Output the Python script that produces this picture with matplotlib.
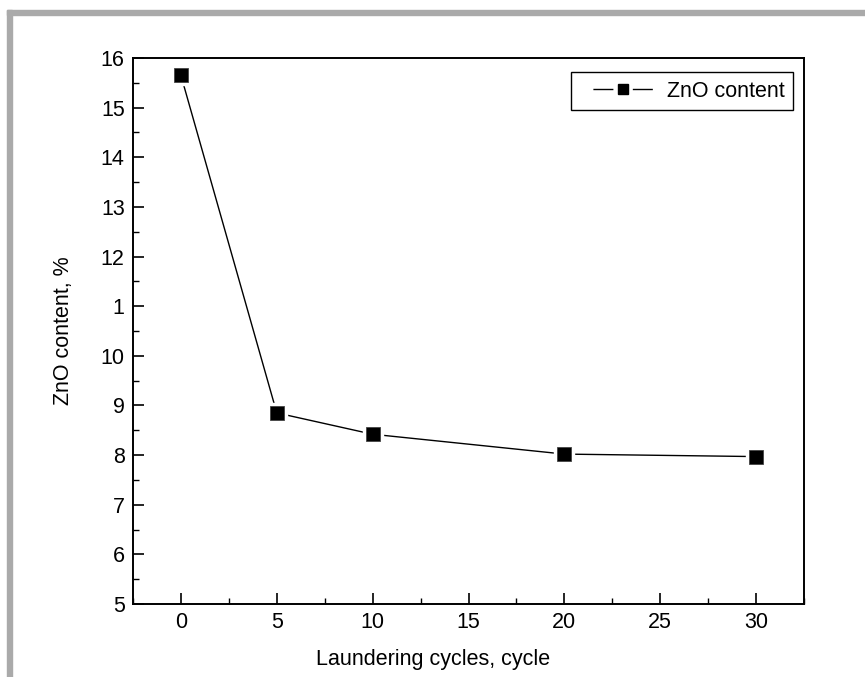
import matplotlib.pyplot as plt
from matplotlib.ticker import MultipleLocator, FixedLocator, FixedFormatter
from matplotlib.patches import Rectangle
from matplotlib.lines import Line2D

plt.rcParams['font.family'] = ['Liberation Sans', 'DejaVu Sans']

ciclos = [0, 5, 10, 20, 30]
zno = [15.65, 8.85, 8.42, 8.02, 7.97]
y_ticks = [5, 6, 7, 8, 9, 10, 11, 12, 13, 14, 15, 16]
y_labels = ['5', '6', '7', '8', '9', '10', '1', '12', '13', '14', '15', '16']

fig = plt.figure(figsize=(8.65, 6.77), dpi=100)
ax = fig.add_axes([133 / 865, 1 - 604 / 677, (804 - 133) / 865, (604 - 58) / 677])

# moldura cinza
fig.patches.append(Rectangle((7 / 865, 0), 5 / 865, 1 - 10 / 677, transform=fig.transFigure,
                             color='#aaaaaa', zorder=0))
fig.patches.append(Rectangle((7 / 865, 1 - 15 / 677), 1, 5 / 677, transform=fig.transFigure,
                             color='#aaaaaa', zorder=0))

ax.plot(ciclos, zno, color='black', lw=1.0, zorder=2)
ax.plot(ciclos, zno, ls='none', marker='s', ms=14, mfc='white', mec='white', zorder=3)
ax.plot(ciclos, zno, ls='none', marker='s', ms=9.5, mfc='black', mec='#444444', mew=0.6, zorder=4)

ax.set_xlim(-2.5, 32.5)
ax.set_ylim(5, 16)
ax.xaxis.set_major_locator(MultipleLocator(5))
ax.xaxis.set_minor_locator(MultipleLocator(2.5))
ax.yaxis.set_major_locator(FixedLocator(y_ticks))
ax.yaxis.set_major_formatter(FixedFormatter(y_labels))
ax.yaxis.set_minor_locator(MultipleLocator(0.5))
ax.tick_params(which='both', direction='in', top=False, right=False, labelsize=15.5, color='black')
ax.tick_params(which='major', length=8, width=1.2, pad=6)
ax.tick_params(which='minor', length=4, width=1.0)
for s in ax.spines.values():
    s.set_linewidth(1.4)

ax.set_xlabel('Laundering cycles, cycle', fontsize=15.5)
ax.xaxis.set_label_coords((433 - 133) / 671, -0.082)
ax.set_ylabel('ZnO content, %', fontsize=15.5)
ax.yaxis.set_label_coords((74 - 133) / 671, 0.5)

# legenda: traco, vao, marcador, vao, traco (com margem em branco nas pontas)
h = Line2D([], [], color='black', lw=1.0, ls=(62.8, (14.4, 14, 14.4, 30)),
           marker='s', ms=6.5, mfc='black', mec='black')
leg = ax.legend([h], ['ZnO content'], loc='upper right', fontsize=15.5, fancybox=False,
                edgecolor='black', framealpha=1, borderpad=0.4, handlelength=4.05,
                handletextpad=0.0, borderaxespad=0, bbox_to_anchor=(0.9836, 0.9744))
leg.get_frame().set_linewidth(1.0)

fig.savefig('out.png', dpi=100)
